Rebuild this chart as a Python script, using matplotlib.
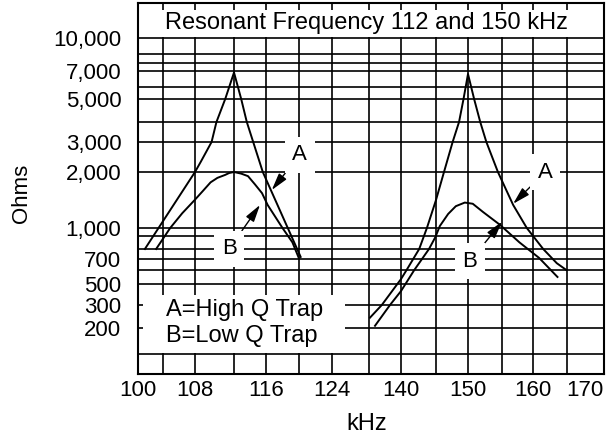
import numpy as np
import matplotlib
matplotlib.use("Agg")
import matplotlib.pyplot as plt
from matplotlib.patches import Rectangle

plt.rcParams['font.family'] = ['Liberation Sans', 'DejaVu Sans']
plt.rcParams['font.size'] = 16

# A = high Q trap, B = low Q trap (kHz, ohms)
a112_khz = [101.1, 108.0, 108.6, 109.7, 110.2, 111.1, 112.0, 112.9, 113.6, 114.4, 115.6, 120.2]
a112_ohm = [800, 2000, 2300, 3000, 4000, 5000, 6900, 5000, 4000, 3000, 2000, 720]
b112_khz = [102.9, 104.9, 106.4, 108.0, 108.8, 109.6, 110.3, 111.1, 111.5, 112.0, 112.9,
            113.75, 114.6, 115.5, 116.2, 118.0, 119.2, 120.0]
b112_ohm = [800, 1000, 1200, 1420, 1580, 1760, 1860, 1930, 1975, 2000, 1960,
            1900, 1720, 1540, 1330, 1000, 850, 705]

a150_khz = [132.25, 135.2, 140.0, 140.8, 142.6, 143.7, 145.0, 146.25, 147.6, 148.6, 149.3, 150.0,
            150.9, 151.8, 152.7, 154.4, 156.8, 159.0, 161.5, 163.5, 164.9]
a150_ohm = [240, 300, 533, 600, 800, 1000, 1414, 2000, 3000, 4000, 5000, 6800,
            5000, 4000, 3000, 2000, 1330, 1000, 800, 660, 600]
b150_khz = [133.5, 137.25, 140.0, 141.9, 143.0, 144.0, 144.9, 145.6, 146.9, 148.1, 149.5,
            150.7, 152.2, 154.7, 157.8, 160.9, 163.6]
b150_ohm = [208, 300, 421, 600, 700, 800, 890, 1025, 1190, 1310, 1370,
            1350, 1220, 1040, 850, 710, 548]

x_ticks = [100, 108, 116, 124, 140, 150, 160, 170]
x_minor = [104, 112, 120, 132, 145, 155, 165]
y_ticks = [200, 300, 500, 700, 1000, 2000, 3000, 5000, 7000, 10000]
y_labels = ['200', '300', '500', '700', '1,000', '2,000', '3,000', '5,000', '7,000', '10,000']
y_minor = [100, 600, 800, 900, 4000, 6000, 8000, 9000]

# the printed grid is not to scale, so both axes follow it piecewise
x_grid = [100, 104, 108, 112, 116, 120, 124, 132, 140, 145, 150, 155, 160, 165, 170]
x_place = [0, 25, 57, 96, 128, 161, 194, 231, 263, 298, 330, 364, 395, 429, 466]
y_grid = [50, 100, 200, 300, 500, 600, 700, 800, 900, 1000, 2000, 3000, 4000, 5000,
          6000, 7000, 8000, 9000, 10000, 20000]
y_place = [0, 20, 46, 69, 90, 104, 115, 125, 138, 146, 202, 232, 252, 275,
           287, 303, 311, 320, 336, 371]
y_log = np.log10(y_grid)


def fx(v):
    return np.interp(v, x_grid, x_place)


def fx_inv(p):
    return np.interp(p, x_place, x_grid)


def fy(v):
    return np.interp(np.log10(np.clip(v, 1e-6, None)), y_log, y_place)


def fy_inv(p):
    return 10 ** np.interp(p, y_place, y_log)


fig = plt.figure(figsize=(6.13, 4.36), dpi=100)
ax = fig.add_axes([138 / 613, 1 - 374 / 436, 466 / 613, 371 / 436])
ax.set_xscale('function', functions=(fx, fx_inv))
ax.set_yscale('function', functions=(fy, fy_inv))
ax.set_xlim(100, 170)
ax.set_ylim(50, 20000)

ax.set_xticks(x_ticks)
ax.set_xticklabels([str(v) for v in x_ticks])
ax.set_xticks(x_minor, minor=True)
ax.set_yticks(y_ticks)
ax.set_yticklabels(y_labels)
ax.set_yticks(y_minor, minor=True)
ax.xaxis.set_minor_formatter(plt.NullFormatter())
ax.yaxis.set_minor_formatter(plt.NullFormatter())
ax.tick_params(which='both', length=0)
ax.tick_params(axis='x', pad=4)
ax.tick_params(axis='y', pad=12)
ax.get_xticklabels()[-1].set_horizontalalignment('right')

ax.set_axisbelow(True)
ax.grid(which='both', color='black', lw=1.2)
for s in ax.spines.values():
    s.set_linewidth(1.5)

# white title strip and key box knock out the grid
ax.add_patch(Rectangle((0, 0.909), 1, 0.072, transform=ax.transAxes,
                       fc='white', ec='none', zorder=1))
ax.add_patch(Rectangle((0.011, 0.057), 0.433, 0.156, transform=ax.transAxes,
                       fc='white', ec='none', zorder=1))

for xs, ys in [(a112_khz, a112_ohm), (b112_khz, b112_ohm),
               (a150_khz, a150_ohm), (b150_khz, b150_ohm)]:
    ax.plot(xs, ys, color='black', lw=1.4, zorder=2)

box = dict(boxstyle='square,pad=0.35', fc='white', ec='none')
arrow = dict(arrowstyle='-|>,head_length=0.65,head_width=0.18', color='black', lw=1,
             shrinkA=0, shrinkB=0)
ax.annotate('A', xy=(116.7, 1600), xytext=(120.1, 2520), ha='center', va='center',
            bbox=box, arrowprops=arrow, zorder=3)
ax.annotate('B', xy=(115.25, 1330), xytext=(111.5, 800), ha='center', va='center',
            bbox=box, arrowprops=arrow, zorder=3)
ax.annotate('A', xy=(156.8, 1350), xytext=(161.8, 2000), ha='center', va='center',
            bbox=box, arrowprops=arrow, zorder=3)
ax.annotate('B', xy=(155.0, 1080), xytext=(150.3, 680), ha='center', va='center',
            bbox=box, arrowprops=arrow, zorder=3)

ax.text(0.491, 0.930, 'Resonant Frequency 112 and 150 kHz', transform=ax.transAxes,
        ha='center', va='baseline', fontsize=17, zorder=3)
ax.text(0.060, 0.156, 'A=High Q Trap', transform=ax.transAxes,
        va='baseline', fontsize=17, zorder=3)
ax.text(0.060, 0.086, 'B=Low Q Trap', transform=ax.transAxes,
        va='baseline', fontsize=17, zorder=3)

ax.set_xlabel('kHz', fontsize=17)
ax.xaxis.set_label_coords(0.491, -0.105)
ax.set_ylabel('Ohms', va='center')
ax.yaxis.set_label_coords(-0.251, 0.488)

fig.savefig('out.png', dpi=100)
